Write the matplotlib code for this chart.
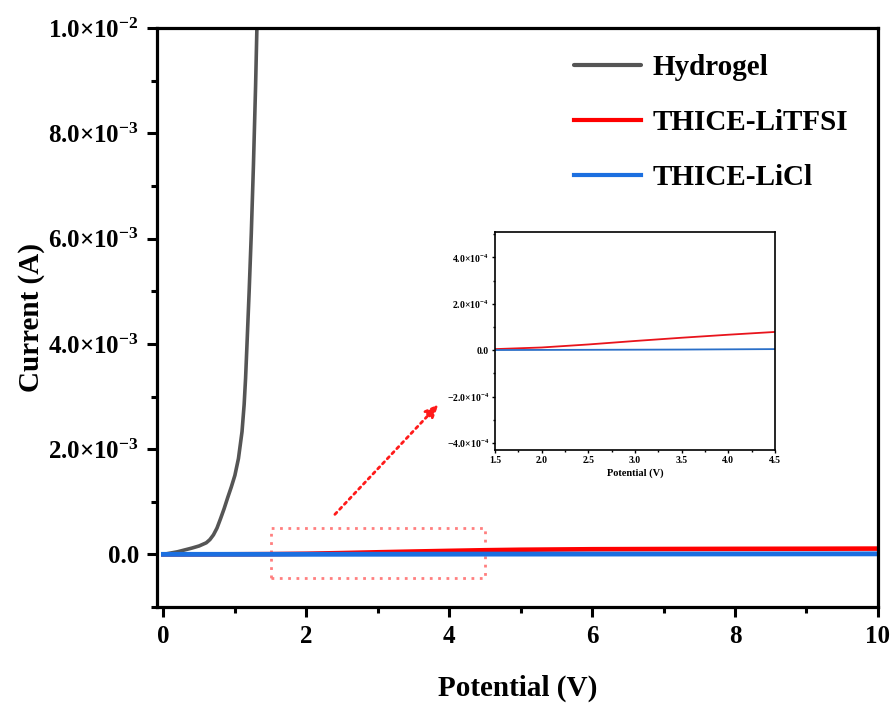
import matplotlib
matplotlib.use("Agg")
import matplotlib.pyplot as plt
from matplotlib.patches import Rectangle
from matplotlib.ticker import MultipleLocator, FuncFormatter
import numpy as np

plt.rcParams['font.family'] = ['Liberation Serif', 'DejaVu Serif']
plt.rcParams['font.weight'] = 'bold'
plt.rcParams['mathtext.fontset'] = 'custom'
plt.rcParams['mathtext.rm'] = 'Liberation Serif:bold'
plt.rcParams['mathtext.it'] = 'Liberation Serif:bold'
plt.rcParams['mathtext.bf'] = 'Liberation Serif:bold'
plt.rcParams['mathtext.default'] = 'rm'

# ---- data ----
hyd_v = [0.0, 0.2, 0.4, 0.5, 0.6, 0.65, 0.7, 0.75, 0.8, 0.85, 0.9, 0.95, 1.0, 1.05, 1.1, 1.13, 1.15,
         1.17, 1.2, 1.23, 1.26, 1.29, 1.31]
hyd_i = [0.0, 0.05e-3, 0.12e-3, 0.16e-3, 0.22e-3, 0.28e-3, 0.37e-3, 0.50e-3, 0.68e-3, 0.87e-3, 1.08e-3,
         1.28e-3, 1.50e-3, 1.82e-3, 2.33e-3, 2.85e-3, 3.35e-3, 4.0e-3, 5.0e-3, 6.1e-3, 7.4e-3, 8.9e-3, 10.1e-3]
tfsi_v = [0.0, 0.5, 1.0, 1.5, 2.0, 2.5, 3.0, 3.5, 4.0, 4.5, 5.0, 6.0, 7.0, 8.0, 9.0, 10.0]
tfsi_i = [0.0, 0.005e-4, 0.02e-4, 0.05e-4, 0.12e-4, 0.25e-4, 0.40e-4, 0.54e-4, 0.67e-4, 0.79e-4, 0.88e-4,
          0.98e-4, 1.02e-4, 1.05e-4, 1.07e-4, 1.10e-4]
licl_v = [0.0, 1.5, 2.0, 2.5, 3.0, 3.5, 4.0, 4.5, 6.0, 8.0, 10.0]
licl_i = [0.0, 0.01e-4, 0.015e-4, 0.02e-4, 0.025e-4, 0.03e-4, 0.04e-4, 0.05e-4, 0.06e-4, 0.08e-4, 0.10e-4]
labels = ['Hydrogel', 'THICE-LiTFSI', 'THICE-LiCl']
colors = ['#555555', '#ff0000', '#1c6fe0']


def sci_fmt(exp):
    def f(v, pos):
        if abs(v) < 1e-12:
            return '0.0'
        m = v / 10 ** exp
        s = '\u2212' if m < 0 else ''
        return s + '%.1f\u00d710$^{\\mathbf{%d}}$' % (abs(m), exp)
    return f


def ysci(v, pos):
    if abs(v) < 1e-12:
        return '0.0'
    if abs(v - 1e-2) < 1e-9:
        return '1.0\u00d710$^{\\mathbf{-2}}$'
    return '%.1f\u00d710$^{\\mathbf{-3}}$' % (v / 1e-3)


fig = plt.figure(figsize=(8.94, 7.04), dpi=100)
ax = fig.add_axes([0.1756, 0.1378, 0.8064, 0.8222])

ax.plot(hyd_v, hyd_i, color=colors[0], lw=2.6, label=labels[0], solid_capstyle='round')
ax.plot(tfsi_v, tfsi_i, color=colors[1], lw=3.3, label=labels[1])
ax.plot(licl_v, licl_i, color=colors[2], lw=3.5, label=labels[2])

ax.set_xlim(-0.09, 10)
ax.set_ylim(-1e-3, 1e-2)
ax.xaxis.set_major_locator(MultipleLocator(2))
ax.xaxis.set_minor_locator(MultipleLocator(1))
ax.yaxis.set_major_locator(MultipleLocator(2e-3))
ax.yaxis.set_minor_locator(MultipleLocator(1e-3))
ax.yaxis.set_major_formatter(FuncFormatter(ysci))
ax.xaxis.set_major_formatter(FuncFormatter(lambda v, p: '%d' % v))
ax.tick_params(which='major', direction='out', length=7, width=2.2, labelsize=18, pad=6)
ax.tick_params(which='minor', direction='out', length=4, width=2.2)
ax.tick_params(top=False, right=False, which='both')
for sp in ax.spines.values():
    sp.set_linewidth(2.3)
ax.set_xlabel('Potential (V)', fontsize=21, fontweight='bold', labelpad=19)
ax.set_ylabel('Current (A)', fontsize=21, fontweight='bold', labelpad=2)

leg = ax.legend(loc='upper right', bbox_to_anchor=(0.995, 1.0), frameon=False,
                prop={'family': 'Liberation Serif', 'weight': 'bold', 'size': 21},
                handlelength=2.3, handletextpad=0.4, labelspacing=0.95)
for ln in leg.get_lines():
    ln.set_linewidth(3)

# dotted zoom rectangle
ax.add_patch(Rectangle((1.5, -0.45e-3), 3.0, 0.95e-3, fill=False, ec='#ff7f7f', ls=(0, (1, 2)), lw=2))
# dotted arrow
ax.annotate('', xy=(3.85, 2.85e-3), xytext=(2.4, 0.76e-3),
            arrowprops=dict(arrowstyle='-|>,head_length=0.8,head_width=0.35', color='#ff1a1a',
                            lw=2, ls=(0, (1, 1.5)), shrinkA=0, shrinkB=0))

# inset
ins = fig.add_axes([0.5537, 0.3608, 0.3132, 0.3097])
ins.plot(tfsi_v, tfsi_i, color='#e8141c', lw=1.3)
ins.plot(licl_v, licl_i, color='#2a6fc8', lw=1.3)
ins.set_xlim(1.5, 4.5)
ins.set_ylim(-4.3e-4, 5.1e-4)
ins.xaxis.set_major_locator(MultipleLocator(0.5))
ins.xaxis.set_minor_locator(MultipleLocator(0.25))
ins.yaxis.set_major_locator(MultipleLocator(2e-4))
ins.yaxis.set_minor_locator(MultipleLocator(1e-4))
ins.yaxis.set_major_formatter(FuncFormatter(sci_fmt(-4)))
ins.xaxis.set_major_formatter(FuncFormatter(lambda v, p: '%.1f' % v))
ins.tick_params(which='major', direction='out', length=2.5, width=1, labelsize=7, pad=2)
ins.tick_params(which='minor', direction='out', length=1.5, width=1)
for sp in ins.spines.values():
    sp.set_linewidth(1.2)
ins.set_xlabel('Potential (V)', fontsize=7.5, fontweight='bold', labelpad=2)

fig.savefig('out.png', dpi=100)
